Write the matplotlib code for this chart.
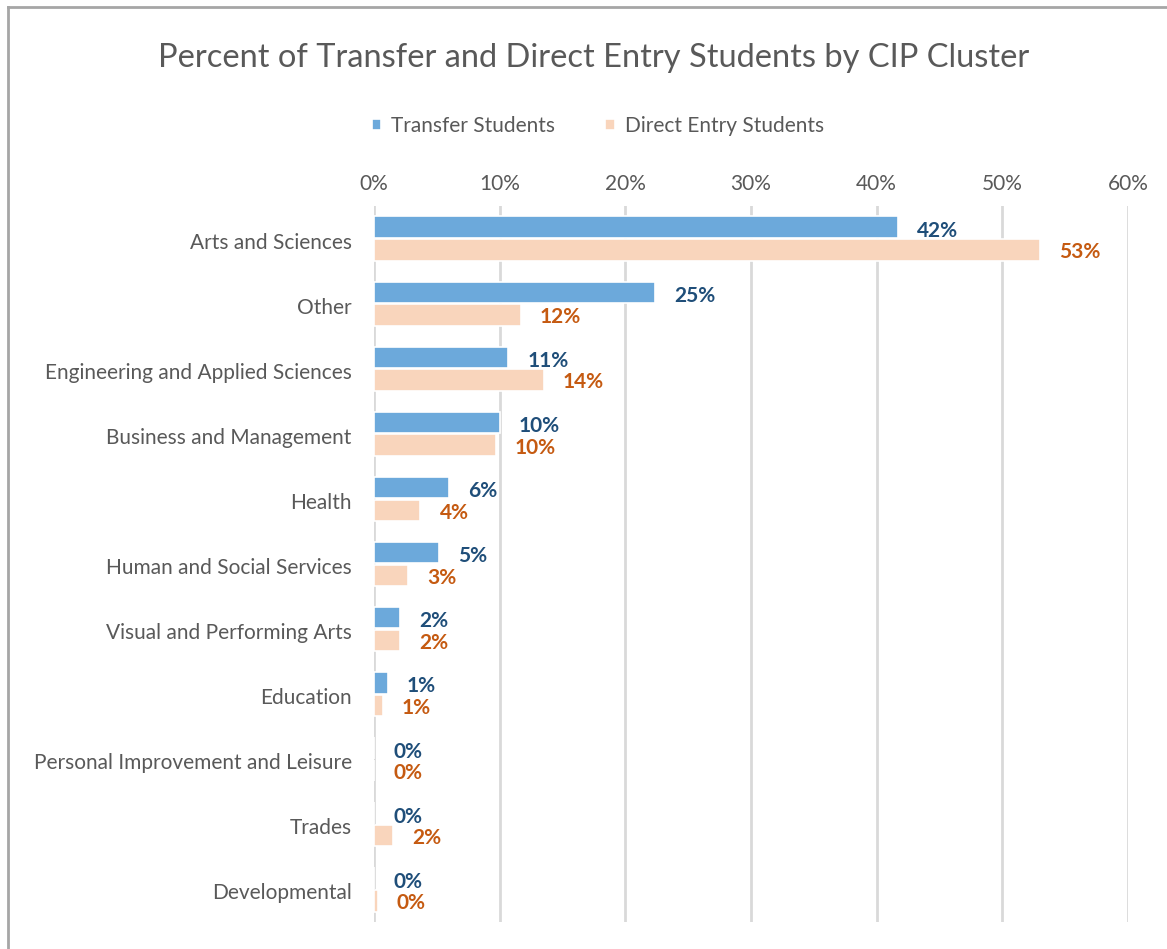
import matplotlib
matplotlib.use('Agg')
import matplotlib.pyplot as plt
from matplotlib.lines import Line2D
from matplotlib.ticker import FuncFormatter
import matplotlib.transforms as mtransforms
import numpy as np

# data
categories = ['Arts and Sciences', 'Other', 'Engineering and Applied Sciences',
              'Business and Management', 'Health', 'Human and Social Services',
              'Visual and Performing Arts', 'Education',
              'Personal Improvement and Leisure', 'Trades', 'Developmental']
transfer = [41.7, 22.4, 10.7, 10.0, 6.0, 5.2, 2.1, 1.1, 0.0, 0.0, 0.0]
direct = [53.0, 11.7, 13.5, 9.7, 3.7, 2.7, 2.1, 0.7, 0.0, 1.5, 0.3]
transfer_labels = ['42%', '25%', '11%', '10%', '6%', '5%', '2%', '1%', '0%', '0%', '0%']
direct_labels = ['53%', '12%', '14%', '10%', '4%', '3%', '2%', '1%', '0%', '2%', '0%']
xticks = [0, 10, 20, 30, 40, 50, 60]

plt.rcParams['font.family'] = ['Lato', 'DejaVu Sans']

fig = plt.figure(figsize=(11.67, 9.49), dpi=100)
ax = fig.add_axes([374 / 1167, 1 - 922 / 949, (1128 - 374) / 1167, (922 - 206) / 949])

c_tr = '#6CA9DB'
c_de = '#F9D5BC'
y = np.arange(len(categories))
h = 0.33

ax.barh(y - h / 2 - 0.01, transfer, height=h, color=c_tr, edgecolor='white', linewidth=1.2,
        label='Transfer Students', zorder=2)
ax.barh(y + h / 2 + 0.01, direct, height=h, color=c_de, edgecolor='white', linewidth=1.2,
        label='Direct Entry Students', zorder=2)

for i in range(len(categories)):
    ax.annotate(transfer_labels[i], (transfer[i], y[i] - h / 2), xytext=(19, -3),
                textcoords='offset pixels', va='center', ha='left', fontsize=15,
                fontweight='bold', color='#1F4E79')
    ax.annotate(direct_labels[i], (direct[i], y[i] + h / 2), xytext=(19, -3),
                textcoords='offset pixels', va='center', ha='left', fontsize=15,
                fontweight='bold', color='#C55A11')

ax.set_xlim(0, 60)
ax.set_ylim(len(categories) - 0.5, -0.5)
ax.set_xticks(xticks)
ax.xaxis.set_major_formatter(FuncFormatter(lambda v, p: '%d%%' % v))
ax.xaxis.tick_top()
ax.set_yticks(y)
ax.set_yticklabels(categories)
ax.tick_params(axis='both', length=0, labelsize=15, colors='#595959')
ax.tick_params(axis='x', pad=9)
ax.tick_params(axis='y', pad=16)
# nudge category labels down a little
shift = mtransforms.ScaledTranslation(0, -2 / 100, fig.dpi_scale_trans)
for lbl in ax.get_yticklabels():
    lbl.set_transform(lbl.get_transform() + shift)
ax.grid(axis='x', color='#D9D9D9', linewidth=2, zorder=0)
ax.set_axisbelow(True)
for s in ax.spines.values():
    s.set_visible(False)

fig.text(594 / 1167, 1 - 58 / 949, 'Percent of Transfer and Direct Entry Students by CIP Cluster',
         ha='center', va='center', fontsize=23.5, color='#595959')

fig.legend(loc='center', bbox_to_anchor=(598 / 1167, 1 - 126 / 949), ncol=2, frameon=False,
           fontsize=15, handlelength=0.45, handleheight=0.45, columnspacing=2.4,
           handletextpad=0.5, labelcolor='#595959')

# chart frame (cut off at right and bottom)
fig.add_artist(Line2D([8 / 1167, 8 / 1167], [0, 1 - 7 / 949], transform=fig.transFigure,
                      color='#A6A6A6', linewidth=2))
fig.add_artist(Line2D([8 / 1167, 1], [1 - 7 / 949, 1 - 7 / 949], transform=fig.transFigure,
                      color='#A6A6A6', linewidth=2))

fig.savefig('out.png', dpi=100)
